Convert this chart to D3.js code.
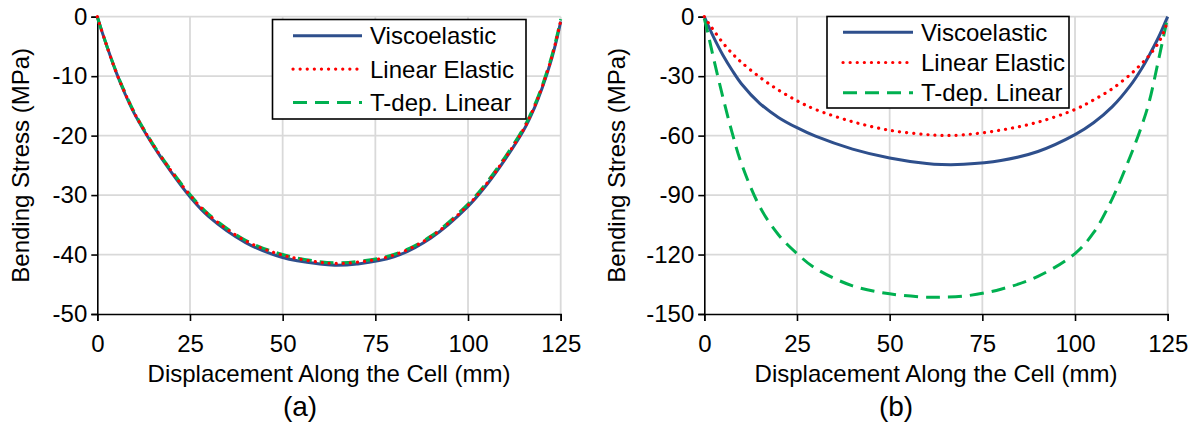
<!DOCTYPE html>
<html lang="en">
    <head>
        <meta charset="utf-8">
        <title>Bending Stress Along the Cell</title>
        <script type="text/javascript" src="https://d3js.org/d3.v7.min.js"></script>
        <style type="text/css">
            body {
                margin: 0;
                background: #ffffff;
            }
            svg text {
                font-family: "Liberation Sans", Arial, Helvetica, sans-serif;
                font-size: 24px;
                fill: #000000;
            }
        </style>
    </head>
    <body>
        <script type="text/javascript">

            // Datos
            var xGrid = [0, 1, 2.5, 5, 7.5, 10, 15, 20, 25, 30, 40, 50, 60, 64, 70, 80, 90, 100, 105, 110, 115, 118, 120, 122.5, 124, 125];

            var xTicks = [0, 25, 50, 75, 100, 125];
            var yTicksA = [0, -10, -20, -30, -40, -50];
            var yTicksB = [0, -30, -60, -90, -120, -150];

            var seriesNames = ["Viscoelastic", "Linear Elastic", "T-dep. Linear"];

            // Panel (a)
            var viscoA = [0, -2.0, -4.8, -9.2, -13.0, -16.3, -21.6, -26.2, -30.3, -33.6, -38.0, -40.5, -41.6, -41.8, -41.6, -40.4, -37.2, -31.9, -28.3, -24.0, -19.1, -15.2, -12.0, -7.2, -3.6, -0.8];
            var linearA = [0, -2.0, -4.8, -9.2, -12.9, -16.2, -21.5, -26.0, -30.0, -33.3, -37.7, -40.1, -41.3, -41.5, -41.3, -40.1, -37.0, -31.7, -28.1, -23.8, -18.9, -15.0, -11.8, -7.0, -3.4, -0.7];
            var tdepA = [0, -2.0, -4.8, -9.1, -12.8, -16.1, -21.4, -25.9, -29.9, -33.2, -37.6, -40.0, -41.2, -41.4, -41.2, -40.0, -36.9, -31.5, -27.9, -23.6, -18.7, -14.8, -11.6, -6.8, -3.2, -0.4];

            // Panel (b)
            var viscoB = [0, -4.3, -10.3, -19.3, -27.0, -33.8, -43.8, -50.8, -56.0, -60.3, -66.8, -71.3, -74.1, -74.6, -74.5, -72.6, -68.0, -59.5, -53.5, -45.5, -34.5, -26.1, -19.5, -10.5, -4.2, 0];
            var linearB = [0, -2.8, -6.8, -13.2, -18.5, -23.0, -30.6, -37.0, -42.4, -46.8, -53.0, -57.3, -59.5, -59.9, -59.6, -57.2, -53.2, -46.8, -42.0, -36.4, -29.0, -23.6, -19.6, -13.2, -7.4, -2.0];
            var tdepB = [-1, -8.5, -21, -40.5, -58.5, -74, -96, -110, -119.5, -127, -135.8, -139.8, -141.5, -141.5, -141, -137.5, -131, -119.5, -109, -92, -70, -55, -43, -22, -9, 0];

            // Estilos de las series
            var styles = [
                {color: "#2E4F8C", width: 3, dash: null, cap: "butt"},
                {color: "#FF0000", width: 3.2, dash: "0.1 7", cap: "round"},
                {color: "#00B050", width: 3, dash: "14 8", cap: "butt"}
            ];

            var w = 1195;
            var h = 428;

            var svg = d3.select("body")
                        .append("svg")
                        .attr("width", w)
                        .attr("height", h);

            svg.append("rect")
                .attr("width", w)
                .attr("height", h)
                .attr("fill", "#ffffff");

            var panels = [
                {
                    left: 97.3, right: 560.7, top: 16.7, bottom: 314,
                    yDomain: [-50, 0], yTicks: yTicksA,
                    series: [viscoA, linearA, tdepA],
                    titleX: 29, labelX: 300, label: "(a)",
                    legend: {x: 272.5, y: 19.5, w: 253.5, h: 99.5, row: 33.3, first: 35.8, sx: 293, sw: 69, tx: 370}
                },
                {
                    left: 704.3, right: 1167.7, top: 16.7, bottom: 314,
                    yDomain: [-150, 0], yTicks: yTicksB,
                    series: [viscoB, linearB, tdepB],
                    titleX: 625, labelX: 896, label: "(b)",
                    legend: {x: 827, y: 16.5, w: 242, h: 91.5, row: 30.2, first: 32.3, sx: 843, sw: 70, tx: 921}
                }
            ];

            panels.forEach(function(p) {

                var xScale = d3.scaleLinear()
                                .domain([0, 125])
                                .range([p.left, p.right]);

                var yScale = d3.scaleLinear()
                                .domain(p.yDomain)
                                .range([p.bottom, p.top]);

                var g = svg.append("g");

                // Rejilla
                g.selectAll(".gx")
                    .data(xTicks.slice(1))
                    .enter()
                    .append("line")
                    .attr("x1", function(d) { return xScale(d); })
                    .attr("x2", function(d) { return xScale(d); })
                    .attr("y1", p.top)
                    .attr("y2", p.bottom)
                    .attr("stroke", "#D9D9D9")
                    .attr("stroke-width", 1.8);

                g.selectAll(".gy")
                    .data(p.yTicks.filter(function(d) { return d !== p.yDomain[0]; }))
                    .enter()
                    .append("line")
                    .attr("x1", p.left)
                    .attr("x2", p.right)
                    .attr("y1", function(d) { return yScale(d); })
                    .attr("y2", function(d) { return yScale(d); })
                    .attr("stroke", "#D9D9D9")
                    .attr("stroke-width", 1.8);

                // Ejes
                var xAxis = d3.axisBottom(xScale)
                                .tickValues(xTicks)
                                .tickSize(7)
                                .tickPadding(14)
                                .tickFormat(d3.format("d"));

                var yAxis = d3.axisLeft(yScale)
                                .tickValues(p.yTicks)
                                .tickSize(6)
                                .tickPadding(4)
                                .tickFormat(function(d) { return d === 0 ? "0" : "-" + Math.abs(d); });

                var gx = g.append("g")
                    .attr("transform", "translate(0," + p.bottom + ")")
                    .call(xAxis);

                var gy = g.append("g")
                    .attr("transform", "translate(" + p.left + ",0)")
                    .call(yAxis);

                [gx, gy].forEach(function(a) {
                    a.select(".domain").attr("stroke", "#000").attr("stroke-width", 1.6);
                    a.selectAll(".tick line").attr("stroke", "#000").attr("stroke-width", 1.6);
                    a.attr("font-size", null).attr("font-family", null);
                });

                // Curvas
                var line = d3.line()
                            .x(function(d, i) { return xScale(xGrid[i]); })
                            .y(function(d) { return yScale(d); })
                            .curve(d3.curveCatmullRom.alpha(0.5));

                // dibujo primero la azul, luego verde, luego roja por encima
                [0, 2, 1].forEach(function(k) {
                    var s = styles[k];
                    g.append("path")
                        .datum(p.series[k])
                        .attr("d", line)
                        .attr("fill", "none")
                        .attr("stroke", s.color)
                        .attr("stroke-width", s.width)
                        .attr("stroke-linecap", s.cap)
                        .attr("stroke-dasharray", s.dash);
                });

                // Titulos
                g.append("text")
                    .attr("x", (p.left + p.right) / 2)
                    .attr("y", 382)
                    .attr("text-anchor", "middle")
                    .text("Displacement Along the Cell (mm)");

                g.append("text")
                    .attr("transform", "translate(" + p.titleX + "," + ((p.top + p.bottom) / 2) + ") rotate(-90)")
                    .attr("text-anchor", "middle")
                    .text("Bending Stress (MPa)");

                g.append("text")
                    .attr("x", p.labelX)
                    .attr("y", 416)
                    .attr("text-anchor", "middle")
                    .style("font-size", "28px")
                    .text(p.label);

                // Leyenda
                var L = p.legend;
                var leg = g.append("g");

                leg.append("rect")
                    .attr("x", L.x)
                    .attr("y", L.y)
                    .attr("width", L.w)
                    .attr("height", L.h)
                    .attr("fill", "#ffffff")
                    .attr("stroke", "#000000")
                    .attr("stroke-width", 1.6);

                seriesNames.forEach(function(name, k) {
                    var s = styles[k];
                    var yy = L.first + k * L.row;
                    leg.append("line")
                        .attr("x1", L.sx)
                        .attr("x2", L.sx + L.sw)
                        .attr("y1", yy)
                        .attr("y2", yy)
                        .attr("stroke", s.color)
                        .attr("stroke-width", s.width)
                        .attr("stroke-linecap", s.cap)
                        .attr("stroke-dasharray", s.dash);
                    leg.append("text")
                        .attr("x", L.tx)
                        .attr("y", yy)
                        .attr("dy", "0.35em")
                        .text(name);
                });
            });
        </script>
    </body>
</html>
